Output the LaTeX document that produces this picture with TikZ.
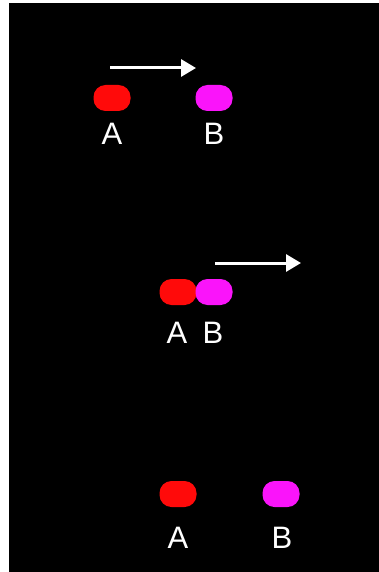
\documentclass[tikz,border=0pt]{standalone}
\usepackage{fontspec}
\setmainfont{Liberation Sans}
\usetikzlibrary{arrows.meta}
\definecolor{pillred}{RGB}{255,10,10}
\definecolor{pillmag}{RGB}{250,20,250}
\tikzset{
  pill/.style={rounded corners=12pt, minimum width=37pt, minimum height=26pt, inner sep=0pt},
  apill/.style={pill, fill=pillred},
  bpill/.style={pill, fill=pillmag},
  tag/.style={text=white, font=\fontsize{31}{31}\selectfont, inner sep=0pt, anchor=center},
  move/.style={draw=white, line width=3pt, -{Triangle[width=17pt,length=15pt]}}
}
\begin{document}
\begin{tikzpicture}[x=1pt, y=-1pt]
  % page and dark panel
  \fill[white] (0,0) rectangle (379,572);
  \fill[black] (9,3) rectangle (379,572);
  \useasboundingbox (0,0) rectangle (379,572);

  % first stage: A approaches B
  \node[apill] (a1) at (112,98) {};
  \node[bpill] (b1) at (214,98) {};
  \node[tag] (la1) at (112,134) {A};
  \node[tag] (lb1) at (214,134) {B};
  \coordinate (s1) at (110,68);
  \coordinate (e1) at (196,68);
  \draw[move] (s1) -- (e1);

  % second stage: collision
  \node[apill] (a2) at (178,292) {};
  \node[bpill] (b2) at (214,292) {};
  \node[tag] (la2) at (177,333) {A};
  \node[tag] (lb2) at (213,333) {B};
  \coordinate (s2) at (215,263);
  \coordinate (e2) at (301,263);
  \draw[move] (s2) -- (e2);

  % third stage: B moves away, A at rest
  \node[apill] (a3) at (178,494) {};
  \node[bpill] (b3) at (281,494) {};
  \node[tag] (la3) at (178,538) {A};
  \node[tag] (lb3) at (282,538) {B};
\end{tikzpicture}
\end{document}
